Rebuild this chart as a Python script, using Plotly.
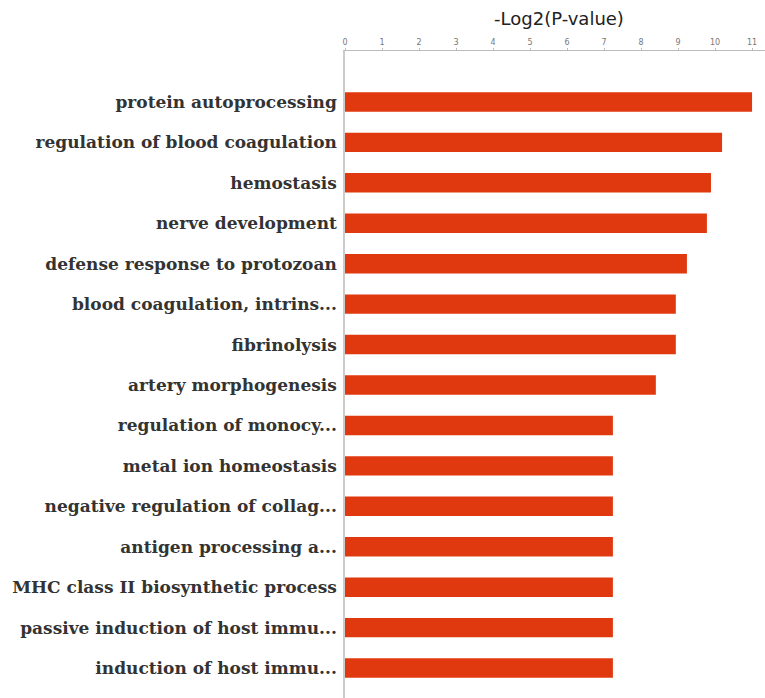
import plotly.graph_objects as go

terms = [
    "protein autoprocessing",
    "regulation of blood coagulation",
    "hemostasis",
    "nerve development",
    "defense response to protozoan",
    "blood coagulation, intrins...",
    "fibrinolysis",
    "artery morphogenesis",
    "regulation of monocy...",
    "metal ion homeostasis",
    "negative regulation of collag...",
    "antigen processing a...",
    "MHC class II biosynthetic process",
    "passive induction of host immu...",
    "induction of host immu...",
]
neg_log2_p = [11.0, 10.19, 9.89, 9.78, 9.24, 8.94, 8.94, 8.4,
              7.24, 7.24, 7.24, 7.24, 7.24, 7.24, 7.24]
tick_vals = list(range(0, 12))

fig = go.Figure(go.Bar(
    x=neg_log2_p, y=terms, orientation="h",
    marker=dict(color="#E0380F", line=dict(width=0)),
    width=0.48,
))

fig.update_layout(
    width=765, height=698,
    margin=dict(l=345, r=0, t=51, b=0),
    paper_bgcolor="white", plot_bgcolor="white",
    showlegend=False,
    title=dict(text="-Log2(P-value)", x=559 / 765, xref="container", xanchor="center",
               y=1 - 19 / 698, yref="container", yanchor="middle",
               font=dict(family="DejaVu Sans", size=18, color="#222")),
    xaxis=dict(side="top", range=[0, 11.35], tickvals=tick_vals,
               tickfont=dict(family="DejaVu Sans", size=8, color="#777"),
               showgrid=False, zeroline=False, showline=True,
               linecolor="#bbb", linewidth=1, ticks="outside", ticklen=2,
               tickcolor="#bbb"),
    yaxis=dict(type="category", range=[14.74, -1.26],
               tickfont=dict(family="DejaVu Serif", size=17, color="#333",
                             weight="bold"),
               showgrid=False, zeroline=False, showline=True,
               linecolor="#ccc", linewidth=1.5, ticks="", ticklabelstandoff=3),
)

fig.write_html("out.html")
